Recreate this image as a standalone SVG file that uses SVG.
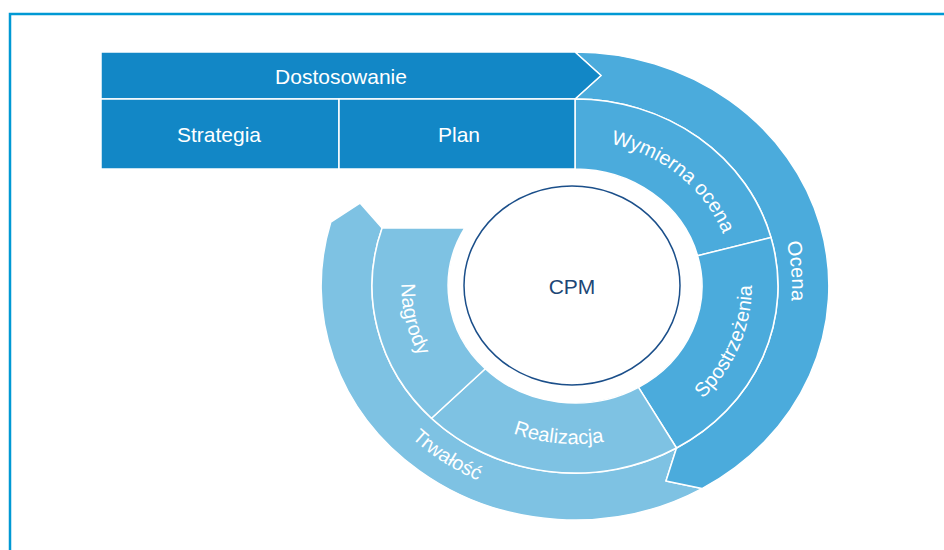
<svg xmlns="http://www.w3.org/2000/svg" width="944" height="550" viewBox="0 0 944 550">
  <style>
    .bar { fill: #1287c6; stroke: #ffffff; stroke-width: 1.5; stroke-linejoin: round; }
    .mid { fill: #4babdc; stroke: #ffffff; stroke-width: 1.5; stroke-linejoin: round; }
    .light { fill: #7ec2e3; stroke: #ffffff; stroke-width: 1.5; stroke-linejoin: round; }
    .lbl { font-family: "Liberation Sans", Arial, sans-serif; font-size: 20px; fill: #ffffff; }
    .barlbl { font-family: "Liberation Sans", Arial, sans-serif; font-size: 21px; fill: #ffffff; text-anchor: middle; }
  </style>
  <defs>
    <!-- baselines for the curved ring labels (ellipse centre 575,286) -->
    <path id="p-wym" d="M 547.5,142.2 A 158.4 146 0 0 1 733,296.2" fill="none"/>
    <path id="p-spo" d="M 626.7,441.9 A 176.9 163 0 0 0 726.6,202.1" fill="none"/>
    <path id="p-rea" d="M 429.7,369.7 A 171.4 158 0 0 0 698.3,395.8" fill="none"/>
    <path id="p-nag" d="M 442,183.2 A 173.6 160 0 0 0 498.9,429.8" fill="none"/>
    <path id="p-oce" d="M 696.3,120.2 A 217 200 0 0 1 720.2,434.6" fill="none"/>
    <path id="p-trw" d="M 342.9,293.5 A 232.2 214 0 0 0 639,491.7" fill="none"/>
  </defs>

  <rect x="0" y="0" width="944" height="550" fill="#ffffff"/>
  <!-- frame -->
  <path d="M 10,550 V 14 H 944" fill="none" stroke="#0099d4" stroke-width="2.5"/>

  <!-- outer ring -->
  <g id="trwalosc">
    <path class="light" d="M 676.5,448 L 666,481 L 702,488.6 A 253.9 234 0 0 1 330.8,222 L 360,203 L 382.1,228 A 202.9 187 0 0 0 676.5,448 Z"/>
    <text class="lbl"><textPath href="#p-trw" startOffset="50%" text-anchor="middle">Trwałość</textPath></text>
  </g>
  <g id="ocena">
    <path class="mid" d="M 575,52 A 253.9 234 0 0 1 702,488.6 L 666,481 L 676.5,448 A 202.9 187 0 0 0 575,99 L 601,75.5 Z"/>
    <text class="lbl"><textPath href="#p-oce" startOffset="50%" text-anchor="middle">Ocena</textPath></text>
  </g>

  <!-- inner ring -->
  <g id="wymierna-ocena">
    <path class="mid" d="M 575,99 L 575,169 A 126.9 117 0 0 1 697.6,255.7 L 771,237.6 A 202.9 187 0 0 0 575,99 Z"/>
    <text class="lbl"><textPath href="#p-wym" startOffset="50%" text-anchor="middle">Wymierna ocena</textPath></text>
  </g>
  <g id="spostrzezenia">
    <path class="mid" d="M 697.6,255.7 A 126.9 117 0 0 1 638.5,387.3 L 676.5,448 A 202.9 187 0 0 0 771,237.6 Z"/>
    <text class="lbl"><textPath href="#p-spo" startOffset="50%" text-anchor="middle">Spostrzeżenia</textPath></text>
  </g>
  <g id="realizacja">
    <path class="light" d="M 638.5,387.3 A 126.9 117 0 0 1 485.3,368.7 L 431.5,418.2 A 202.9 187 0 0 0 676.5,448 Z"/>
    <text class="lbl"><textPath href="#p-rea" startOffset="50%" text-anchor="middle">Realizacja</textPath></text>
  </g>
  <g id="nagrody">
    <path class="light" d="M 485.3,368.7 A 126.9 117 0 0 1 464.8,228 L 382.1,228 A 202.9 187 0 0 0 431.5,418.2 Z"/>
    <text class="lbl"><textPath href="#p-nag" startOffset="50%" text-anchor="middle">Nagrody</textPath></text>
  </g>

  <!-- top bar -->
  <g id="dostosowanie">
    <path class="bar" d="M 101,52 L 575,52 L 601,75.5 L 575,99 L 101,99 Z"/>
    <text class="barlbl" x="341" y="84">Dostosowanie</text>
  </g>
  <g id="strategia">
    <rect class="bar" x="101" y="99" width="238" height="70"/>
    <text class="barlbl" x="219" y="142">Strategia</text>
  </g>
  <g id="plan">
    <rect class="bar" x="339" y="99" width="236" height="70"/>
    <text class="barlbl" x="459" y="142">Plan</text>
  </g>

  <!-- centre -->
  <g id="cpm">
    <ellipse cx="572" cy="285.5" rx="108" ry="99.5" fill="#ffffff" stroke="#1b4f8a" stroke-width="1.5"/>
    <text x="572" y="294" font-family="'Liberation Sans', Arial, sans-serif" font-size="21" fill="#1d4676" text-anchor="middle">CPM</text>
  </g>
</svg>
